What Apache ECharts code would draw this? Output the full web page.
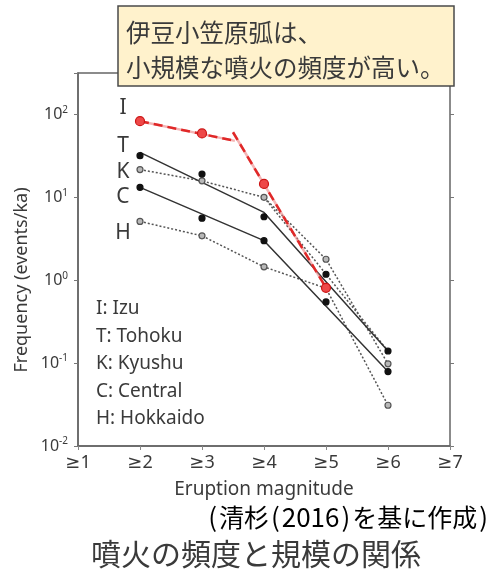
<!DOCTYPE html>
<html>
<head>
<meta charset="utf-8">
<script src="https://cdn.jsdelivr.net/npm/echarts@6/dist/echarts.min.js"></script>
<style>
  html, body { margin: 0; padding: 0; background: #fff; }
  #chart { width: 495px; height: 573px; }
</style>
</head>
<body>
<div id="chart"></div>
<script>
// Eruption magnitude classes (≥n) and cumulative eruption frequency (events/ka)
const magnitudeTicks = [1, 2, 3, 4, 5, 6, 7];
const magnitudes = [2, 3, 4, 5, 6];

const izuMagnitudes = [2, 3, 4, 5];
const izuValues = [83, 59, 14.5, 0.81];
const tohokuValues = [31.8, 19.1, 5.83, 1.18, 0.14];
const kyushuValues = [21.6, 15.8, 10.0, 1.79, 0.098];
const centralValues = [13.2, 5.6, 3.0, 0.547, 0.079];
const hokkaidoValues = [5.12, 3.43, 1.45, 0.8, 0.031];

// Fitted trend lines (magnitude, frequency)
const izuFitSmallX = [2, 3.53];
const izuFitSmallY = [83, 48];
const izuFitLargeX = [3.5, 5];
const izuFitLargeY = [61, 0.81];
const tohokuFitX = [2, 4, 6];
const tohokuFitY = [34.9, 6.58, 0.14];
const centralFitX = [2, 4, 6];
const centralFitY = [13.2, 3.0, 0.079];
const kyushuFitX = [4, 6];
const kyushuFitY = [10.0, 0.14];

const regionLetters = ['I', 'T', 'K', 'C', 'H'];
const regionNames = ['I: Izu', 'T: Tohoku', 'K: Kyushu', 'C: Central', 'H: Hokkaido'];

const latin = '"Noto Sans", "DejaVu Sans", sans-serif';
const cjk = '"Noto Sans CJK JP", sans-serif';
const ink = '#3a3a3a';

const pairs = (xs, ys) => xs.map((x, i) => [x, ys[i]]);

const lineDark = { color: '#333', width: 1.5, type: 'solid' };
const lineDotted = { color: '#555', width: 1.5, type: [2, 2] };

function lineSeries(data, style, z) {
  return { type: 'line', data, symbol: 'none', lineStyle: style, z: z || 2, silent: true, animation: false };
}
function pointSeries(data, size, fill, border, z) {
  return {
    type: 'scatter', data, symbolSize: size,
    itemStyle: { color: fill, borderColor: border, borderWidth: 1.2, opacity: 1 },
    z: z || 3, silent: true, animation: false
  };
}

const chart = echarts.init(document.getElementById('chart'), null, { renderer: 'canvas' });

const logLabel = function (v) {
  const l = Math.log10(v);
  const e = Math.round(l);
  if (Math.abs(l - e) > 1e-6) return '';
  return '{b|10}{s|' + e + '}';
};

const option = {
  backgroundColor: '#fff',
  animation: false,
  grid: { left: 78, right: 45, top: 73, bottom: 127, show: true, borderColor: '#666', borderWidth: 1.5, backgroundColor: 'transparent' },
  xAxis: {
    type: 'value', min: magnitudeTicks[0], max: magnitudeTicks[magnitudeTicks.length - 1], interval: 1,
    axisLine: { show: true, lineStyle: { color: '#666', width: 1.5 } },
    axisTick: { show: true, length: 4, lineStyle: { color: '#888' } },
    splitLine: { show: false },
    axisLabel: { formatter: v => '≥' + v, fontFamily: latin, fontSize: 18, color: ink, margin: 8 },
    name: 'Eruption magnitude', nameLocation: 'middle', nameGap: 34,
    nameTextStyle: { fontFamily: latin, fontSize: 19, color: ink }
  },
  yAxis: [
    {
      type: 'log', logBase: 10, min: 0.01, max: 316.23, interval: 1,
      axisLine: { show: true, lineStyle: { color: '#666', width: 1.5 } },
      axisTick: { show: true, length: 4, lineStyle: { color: '#777' } },
      splitLine: { show: false },
      axisLabel: {
        formatter: logLabel, margin: 10, color: ink,
        rich: {
          b: { fontFamily: latin, fontSize: 16, color: ink },
          s: { fontFamily: latin, fontSize: 10, color: ink, padding: [0, 0, 9, 0] }
        }
      }
    },
    {
      type: 'log', logBase: 10, min: 0.01, max: 316.23, interval: 1, position: 'right',
      axisLine: { show: false },
      axisTick: { show: true, length: 4, lineStyle: { color: '#777' } },
      splitLine: { show: false },
      axisLabel: { show: false }
    }
  ],
  series: [
    // Hokkaido and Kyushu: dotted polylines through the data
    lineSeries(pairs(magnitudes, hokkaidoValues), lineDotted, 2),
    lineSeries(pairs(magnitudes, kyushuValues), lineDotted, 2),
    lineSeries(pairs(kyushuFitX, kyushuFitY), lineDotted, 2),
    // Tohoku and Central: solid trend lines
    lineSeries(pairs(tohokuFitX, tohokuFitY), lineDark, 2),
    lineSeries(pairs(centralFitX, centralFitY), lineDark, 2),
    pointSeries(pairs(magnitudes, hokkaidoValues), 6, '#b8b8b8', '#555', 3),
    pointSeries(pairs(magnitudes, kyushuValues), 6, '#b8b8b8', '#555', 3),
    pointSeries(pairs(magnitudes, tohokuValues), 6, '#111', '#111', 3),
    pointSeries(pairs(magnitudes, centralValues), 6, '#111', '#111', 3),
    // Izu-Bonin: two-segment red dashed trend over a soft red band
    lineSeries(pairs(izuFitSmallX, izuFitSmallY), { color: 'rgba(235,120,120,0.55)', width: 2.5, type: 'solid' }, 4),
    lineSeries(pairs(izuFitLargeX, izuFitLargeY), { color: 'rgba(235,120,120,0.55)', width: 2.5, type: 'solid' }, 4),
    lineSeries(pairs(izuFitSmallX, izuFitSmallY), { color: '#e02828', width: 2.5, type: [9, 5] }, 5),
    lineSeries(pairs(izuFitLargeX, izuFitLargeY), { color: '#e02828', width: 2.5, type: [9, 5] }, 5),
    pointSeries(pairs(izuMagnitudes, izuValues), 9, '#ee4848', '#cc1414', 6)
  ],
  graphic: [
    {
      type: 'text', x: 22, y: 280, rotation: Math.PI / 2,
      style: { text: 'Frequency (events/ka)', font: '18px ' + latin, fill: ink, align: 'center', verticalAlign: 'middle' }
    },
    ...regionLetters.map((t, i) => ({
      type: 'text', x: 123, y: [108, 146, 172, 197, 233][i],
      style: { text: t, font: '21px ' + latin, fill: ink, align: 'center', verticalAlign: 'middle' }
    })),
    {
      type: 'text', x: 96, y: 295,
      style: { text: regionNames.join('\n'), font: '19px ' + latin, lineHeight: 27.5, fill: ink, align: 'left', verticalAlign: 'top' }
    },
    {
      type: 'rect', shape: { x: 118, y: 6, width: 336, height: 80 },
      style: { fill: '#fff2cc', stroke: '#4a4a4a', lineWidth: 1.5 }, z: 100
    },
    {
      type: 'text', x: 126, y: 33, z: 101,
      style: { text: '伊豆小笠原弧は、', font: '24.5px ' + cjk, fill: ink, verticalAlign: 'middle' }
    },
    {
      type: 'text', x: 126, y: 68, z: 101,
      style: { text: '小規模な噴火の頻度が高い。', font: '24.5px ' + cjk, fill: ink, verticalAlign: 'middle' }
    },
    {
      type: 'text', x: 490, y: 517,
      style: {
        text: '{p|(}{c|清杉}{p|(}{d|2016}{p|)}{c|を基に作成}{p|)}',
        align: 'right', verticalAlign: 'middle',
        rich: {
          p: { fontFamily: cjk, fontSize: 26, color: ink, padding: [0, 2] },
          d: { fontFamily: cjk, fontSize: 26, color: ink },
          c: { fontFamily: cjk, fontSize: 25, color: ink }
        }
      }
    },
    {
      type: 'text', x: 256, y: 554,
      style: { text: '噴火の頻度と規模の関係', font: '30px ' + cjk, fill: ink, align: 'center', verticalAlign: 'middle' }
    }
  ]
};

chart.setOption(option);
</script>
</body>
</html>
